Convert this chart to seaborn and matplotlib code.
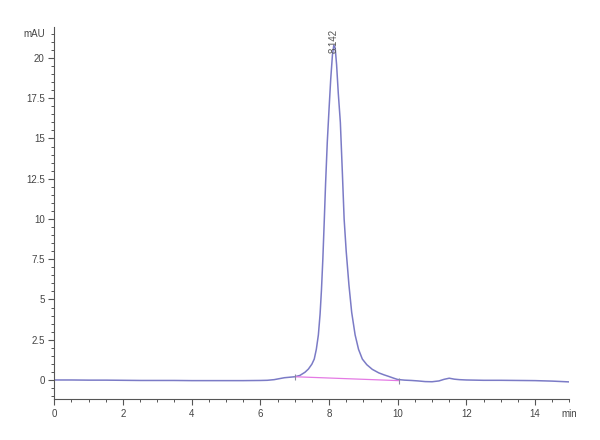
import pandas as pd
from matplotlib import pyplot as plt
from matplotlib.ticker import MultipleLocator
import seaborn as sns

# chromatogram trace (time in min, signal in mAU)
time = [0, 0.5, 1.0, 1.5, 2.0, 2.5, 3.0, 3.5, 4.0, 4.5, 5.0, 5.5, 6.0, 6.2, 6.4,
        6.55, 6.7, 6.85, 7.0, 7.15, 7.3, 7.4, 7.5, 7.57, 7.63, 7.69, 7.74, 7.78,
        7.82, 7.86, 7.9, 7.95, 8.0, 8.05, 8.1, 8.14, 8.18, 8.22, 8.27, 8.33, 8.39,
        8.44, 8.5, 8.58, 8.66, 8.76, 8.86, 8.97, 9.1, 9.26, 9.45, 9.6, 9.74, 9.9,
        10.0, 10.2, 10.4, 10.6, 10.8, 11.0, 11.2, 11.35, 11.5, 11.65, 11.8, 12.0,
        12.5, 13.0, 13.5, 14.0, 14.5, 15.0]
signal = [0.0, 0.0, -0.01, -0.01, -0.02, -0.03, -0.03, -0.03, -0.04, -0.04, -0.04,
          -0.04, -0.03, -0.02, 0.02, 0.08, 0.14, 0.17, 0.2, 0.28, 0.48, 0.68, 0.98,
          1.3, 1.9, 2.8, 4.1, 5.6, 7.5, 9.8, 12.2, 14.8, 16.8, 18.7, 20.2, 20.8,
          20.6, 19.6, 17.8, 16.0, 12.8, 10.0, 8.0, 5.9, 4.2, 2.8, 1.9, 1.3, 0.95,
          0.66, 0.44, 0.32, 0.22, 0.1, 0.03, -0.01, -0.03, -0.06, -0.1, -0.11,
          -0.06, 0.04, 0.11, 0.05, 0.02, 0.0, -0.02, -0.02, -0.03, -0.04, -0.07,
          -0.12]

# integration baseline under the main peak
base_time = [7.02, 10.03]
base_signal = [0.2, -0.04]

peak_time = 8.142
peak_height = 20.8

trace = pd.DataFrame({'time': time, 'signal': signal})
baseline = pd.DataFrame({'time': base_time, 'signal': base_signal})

sns.set_style('ticks')
plt.rcParams['font.family'] = ['Liberation Sans', 'DejaVu Sans']

fig = plt.figure(figsize=(6, 4.4), dpi=100)
ax = fig.add_axes([0.0905, 0.0925, 0.8585, 0.846])

sns.lineplot(data=trace, x='time', y='signal', sort=False, estimator=None,
             color='#7b7bc6', linewidth=1.1, ax=ax)
sns.lineplot(data=baseline, x='time', y='signal', sort=False, estimator=None,
             color='#e47ae4', linewidth=0.9, ax=ax)
ax.scatter(base_time, base_signal, marker='|', s=18, color='#8a8aa0', linewidths=0.8, zorder=3)

# retention time label over the apex
ax.text(peak_time, peak_height - 0.5, '8.142', rotation=90, ha='center', va='bottom',
        fontsize=7, color='#555555')

ax.set_xlim(0, 15)
ax.set_ylim(-1.2, 21.92)
ax.set_xticks([0, 2, 4, 6, 8, 10, 12, 14])
ax.set_yticks([0, 2.5, 5, 7.5, 10, 12.5, 15, 17.5, 20])
ax.set_yticklabels(['0', '2.5', '5', '7.5', '10', '12.5', '15', '17.5', '20'])
ax.xaxis.set_minor_locator(MultipleLocator(0.5))
ax.yaxis.set_minor_locator(MultipleLocator(0.5))
ax.tick_params(which='major', length=4, width=0.8, color='#555555', labelsize=7,
               labelcolor='#444444', pad=3)
ax.tick_params(which='minor', length=2.5, width=0.7, color='#555555')
ax.set_xlabel('')
ax.set_ylabel('')

# unit labels sit where a tick label would be
ax.annotate('mAU', xy=(0, 21.5), xytext=(-7, 0), textcoords='offset points',
            ha='right', va='center', fontsize=7, color='#444444', annotation_clip=False)
ax.annotate('min', xy=(15, -1.2), xytext=(0, -7), textcoords='offset points',
            ha='center', va='top', fontsize=7, color='#444444', annotation_clip=False)

sns.despine(ax=ax)
for side in ['left', 'bottom']:
    ax.spines[side].set_color('#555555')
    ax.spines[side].set_linewidth(0.8)

plt.savefig('out.png')
